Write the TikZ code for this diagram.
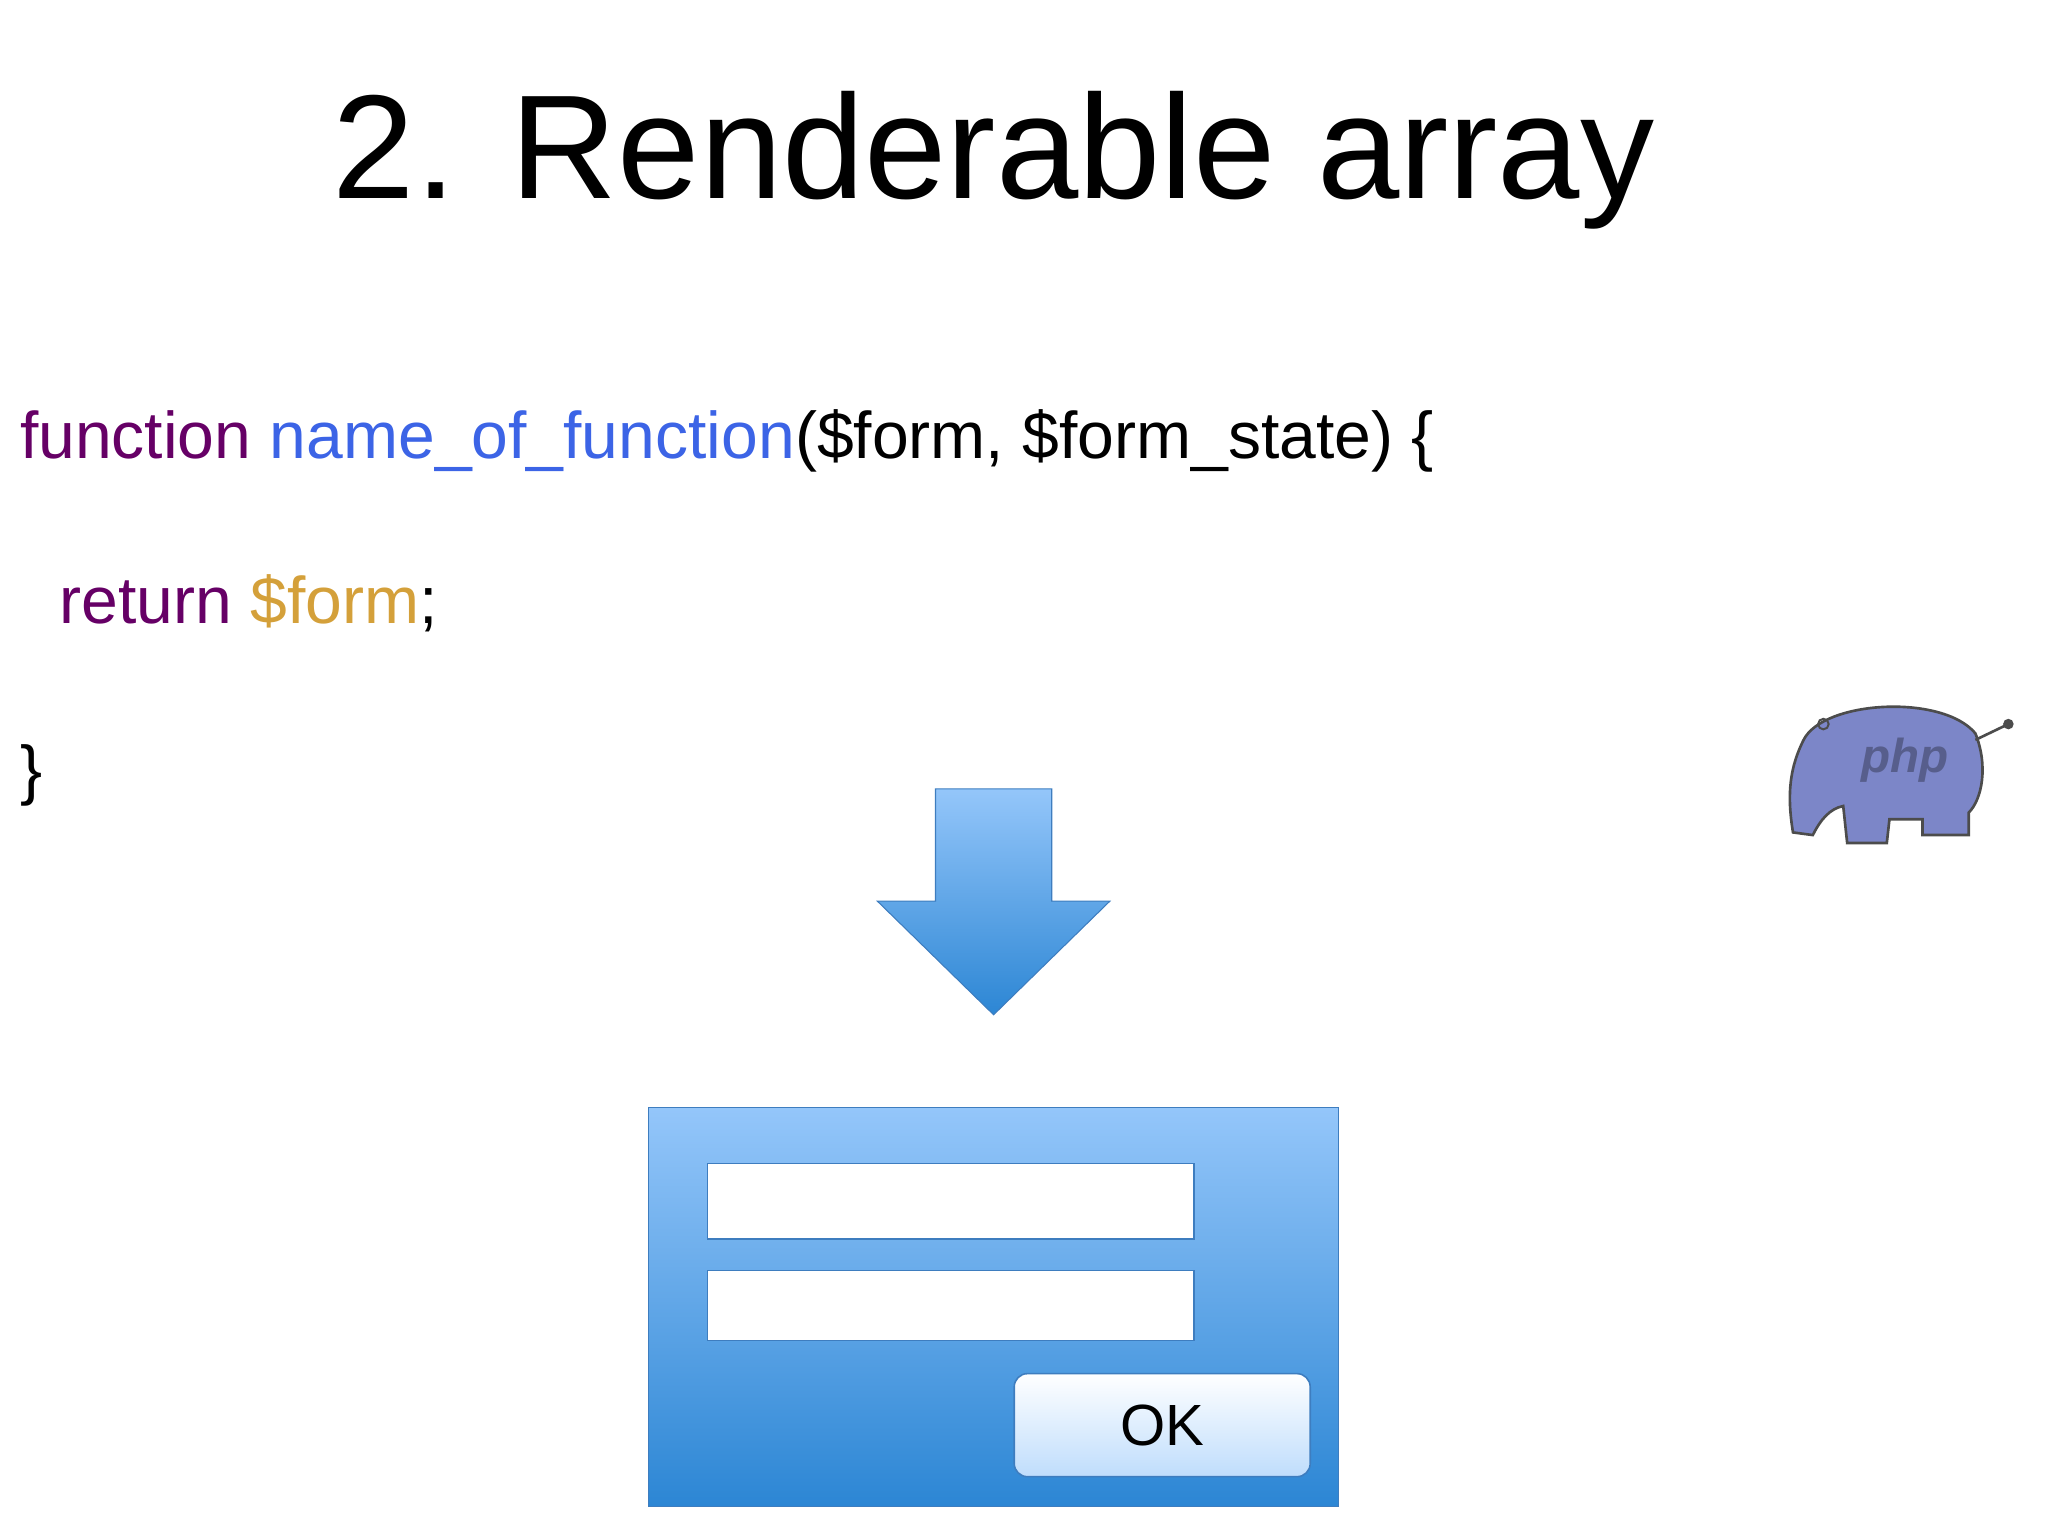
\documentclass[tikz,border=0pt]{standalone}
\usepackage{fontspec}
\setmainfont{Liberation Sans}
\definecolor{kw}{HTML}{660066}
\definecolor{fn}{HTML}{3C64E6}
\definecolor{var}{HTML}{D4A03A}
\definecolor{lb}{HTML}{94C6FA}
\definecolor{db}{HTML}{2C86D4}
\definecolor{edge}{HTML}{3E7DBF}
\definecolor{eleph}{HTML}{7C86C8}
\tikzset{codetxt/.style={anchor=base west,inner sep=0,font=\fontsize{50}{50}\selectfont},
 field/.style={draw=edge,line width=1.2pt,fill=white}}
\begin{document}
\begin{tikzpicture}[x=1pt,y=-1pt]
\useasboundingbox (0,0) rectangle (1550,1162.5);
\node[anchor=base,inner sep=0,font=\fontsize{112}{112}\selectfont] (title) at (752,150) {2. Renderable array};
\node[codetxt] (l1) at (15,347) {\textcolor{kw}{function} \textcolor{fn}{name\_of\_function}(\$form, \$form\_state) \{};
\node[codetxt] (l2) at (45,472) {\textcolor{kw}{return} \textcolor{var}{\$form};};
\node[codetxt] (l3) at (15,600) {\}};
% arrow
\shade[top color=lb,bottom color=db,draw=edge,line width=0.8pt] (708,597) -- (796,597) -- (796,682) -- (840,682) -- (752,768) -- (664,682) -- (708,682) -- cycle;
% form
\shade[top color=lb,bottom color=db,draw=edge,line width=0.8pt] (491,838) rectangle (1013,1140);
\node[field,minimum width=368pt,minimum height=57pt,anchor=north west] (f1) at (535,880) {};
\node[field,minimum width=368pt,minimum height=53pt,anchor=north west] (f2) at (535,961) {};
\node[draw=edge,line width=1.2pt,rounded corners=10pt,top color=white,bottom color=lb!60,minimum width=224pt,minimum height=78pt,anchor=north west,font=\fontsize{44}{44}\selectfont] (ok) at (767,1039) {OK};
% php elephant
\fill[eleph,draw=black!70,line width=2pt] (1365,560) .. controls (1380,530) and (1470,525) .. (1495,555) .. controls (1505,580) and (1500,605) .. (1490,615) -- (1490,632) -- (1455,632) -- (1455,620) -- (1430,620) -- (1428,638) -- (1398,638) -- (1395,610) .. controls (1385,612) and (1378,620) .. (1372,632) -- (1357,630) .. controls (1352,600) and (1355,580) .. (1365,560) -- cycle;
\draw[black!70,line width=2pt] (1495,560) -- (1520,548);
\fill[black!70] (1520,548) circle (4pt);
\draw[black!70,line width=1.5pt] (1380,548) circle (4pt);
\node[font=\fontsize{36}{36}\selectfont\bfseries\itshape,text=eleph!70!black,inner sep=0] (php) at (1442,575) {php};
\end{tikzpicture}
\end{document}
